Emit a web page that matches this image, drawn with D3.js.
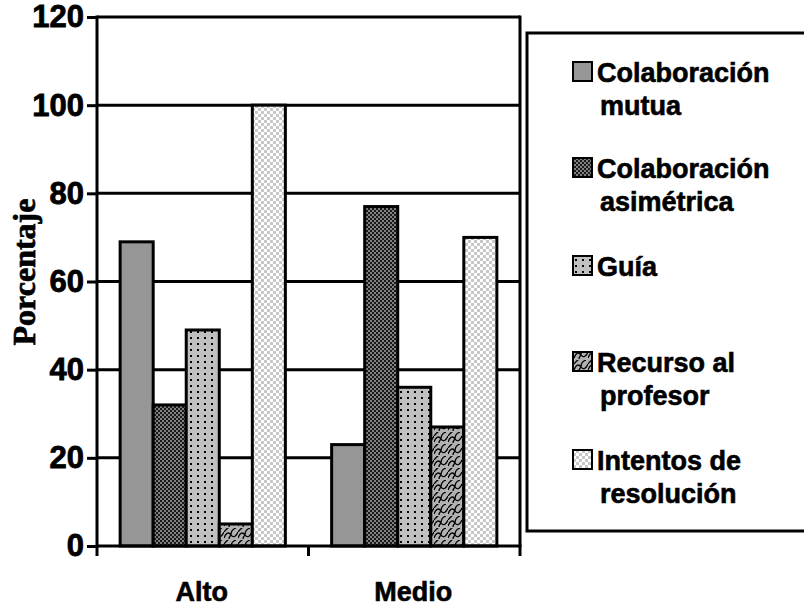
<!DOCTYPE html>
<html><head><meta charset="utf-8">
<script src="https://cdn.jsdelivr.net/npm/d3@7/dist/d3.min.js"></script>
<style>
html,body{margin:0;padding:0;background:#fff;}
svg{display:block;}
</style></head><body>
<svg id="c" width="804" height="606"></svg>
<script>
const categories = ["Alto", "Medio"];
const seriesNames = ["Colaboración mutua", "Colaboración asimétrica", "Guía", "Recurso al profesor", "Intentos de resolución"];
const legendLines = [["Colaboración", "mutua"], ["Colaboración", "asimétrica"], ["Guía"], ["Recurso al", "profesor"], ["Intentos de", "resolución"]];
const altoValues = [69, 32, 49, 5, 100];
const medioValues = [23, 77, 36, 27, 70];
const yTicks = [0, 20, 40, 60, 80, 100, 120];
const yTitle = "Porcentaje";

(function(){
const values = [altoValues, medioValues];
const svg = d3.select("#c");
const defs = svg.append("defs");

const p0 = defs.append("pattern").attr("id","pat0").attr("width",4).attr("height",4).attr("patternUnits","userSpaceOnUse");
p0.append("rect").attr("width",4).attr("height",4).attr("fill","#969696");

const p1 = defs.append("pattern").attr("id","pat1").attr("width",4).attr("height",4).attr("patternUnits","userSpaceOnUse");
p1.append("rect").attr("width",4).attr("height",4).attr("fill","#808080");
p1.append("rect").attr("width",2).attr("height",2).attr("fill","#1a1a1a");
p1.append("rect").attr("x",2).attr("y",2).attr("width",2).attr("height",2).attr("fill","#1a1a1a");

const p2 = defs.append("pattern").attr("id","pat2").attr("width",7).attr("height",12).attr("patternUnits","userSpaceOnUse");
p2.append("rect").attr("width",7).attr("height",12).attr("fill","#c0c0c0");
p2.append("rect").attr("x",1).attr("y",1).attr("width",2).attr("height",2).attr("fill","#000");
p2.append("rect").attr("x",1).attr("y",7).attr("width",2).attr("height",2).attr("fill","#000");

const p3 = defs.append("pattern").attr("id","pat3").attr("width",14).attr("height",12).attr("patternUnits","userSpaceOnUse");
p3.append("rect").attr("width",14).attr("height",12).attr("fill","#b2b2b2");
p3.append("path").attr("d","M0,10 C2,4 5,4 7,7 C9,10 12,9 14,4 M7,7 C7,3 9,1 12,0 M0,4 C2,1 4,0 5,-1 M5,11 C5,9 6,8 7,7")
  .attr("fill","none").attr("stroke","#000").attr("stroke-width",1.3);

const p4 = defs.append("pattern").attr("id","pat4").attr("width",6).attr("height",6).attr("patternUnits","userSpaceOnUse");
p4.append("rect").attr("width",6).attr("height",6).attr("fill","#ffffff");
p4.append("rect").attr("width",3).attr("height",3).attr("fill","#c8c8c8");
p4.append("rect").attr("x",3).attr("y",3).attr("width",3).attr("height",3).attr("fill","#c8c8c8");

const fills = ["url(#pat0)","url(#pat1)","url(#pat2)","url(#pat3)","url(#pat4)"];
const sansFont = "Liberation Sans, Arial, sans-serif";

const pLeft = 97, pRight = 520, pTop = 17, pBottom = 546;
const y = d3.scaleLinear().domain([0,120]).range([pBottom, pTop]);
const x0 = d3.scaleBand().domain(categories).range([pLeft, pRight]).padding(0);
const x1 = d3.scaleBand().domain(seriesNames).range([0, x0.bandwidth()]).paddingInner(0).paddingOuter(0.7);

svg.append("g").selectAll("line").data(yTicks.filter(d=>d>0)).join("line")
  .attr("x1", pLeft).attr("x2", pRight).attr("y1", d=>y(d)).attr("y2", d=>y(d))
  .attr("stroke","#000").attr("stroke-width",3);
svg.append("line").attr("x1",pRight).attr("x2",pRight).attr("y1",pTop-1.5).attr("y2",pBottom)
  .attr("stroke","#000").attr("stroke-width",3);

const g = svg.append("g");
categories.forEach((c, ci) => {
  g.append("g").selectAll("rect").data(values[ci]).join("rect")
    .attr("x", (d,i)=>x0(c)+x1(seriesNames[i]))
    .attr("y", d=>y(d))
    .attr("width", x1.bandwidth())
    .attr("height", d=>y(0)-y(d))
    .attr("fill", (d,i)=>fills[i])
    .attr("stroke","#000").attr("stroke-width",3);
});

const yAxis = d3.axisLeft(y).tickValues(yTicks).tickSize(10).tickPadding(3);
const ya = svg.append("g").attr("transform",`translate(${pLeft},0)`).call(yAxis);
ya.select(".domain").attr("stroke","#000").attr("stroke-width",3).attr("d",`M0,${pTop-1.5}V${pBottom+1.5}`);
ya.selectAll(".tick line").attr("stroke","#000").attr("stroke-width",3);
ya.selectAll(".tick text").attr("font-family",sansFont).attr("font-weight","bold")
  .attr("font-size",31).attr("fill","#000").attr("stroke","#000").attr("stroke-width",0.8);

const xa = svg.append("g").attr("transform",`translate(0,${pBottom})`);
xa.append("line").attr("x1",pLeft).attr("x2",pRight+1.5).attr("y1",0).attr("y2",0).attr("stroke","#000").attr("stroke-width",3);
const xBounds = [pLeft].concat(categories.map(c=>x0(c)+x0.bandwidth()));
xa.selectAll("line.tk").data(xBounds).join("line").attr("class","tk")
  .attr("x1",d=>d).attr("x2",d=>d).attr("y1",0).attr("y2",10).attr("stroke","#000").attr("stroke-width",3);
xa.selectAll("text").data(categories).join("text")
  .attr("x", c=>x0(c)+x0.bandwidth()/2 - 1).attr("y", 55)
  .attr("text-anchor","middle")
  .attr("font-family",sansFont).attr("font-weight","bold")
  .attr("font-size",27).attr("stroke","#000").attr("stroke-width",0.6).text(c=>c);

svg.append("text").attr("transform","translate(35,272) rotate(-90)")
  .attr("text-anchor","middle")
  .attr("font-family","Liberation Serif, Times New Roman, serif").attr("font-weight","bold")
  .attr("font-size",32).attr("stroke","#000").attr("stroke-width",0.7).text(yTitle);

svg.append("rect").attr("x",527).attr("y",33).attr("width",290).attr("height",498)
  .attr("fill","none").attr("stroke","#000").attr("stroke-width",3);
const legendY = [72, 168, 266, 362, 460];
const lg = svg.append("g");
legendLines.forEach((lines, i) => {
  lg.append("rect").attr("x",573).attr("y",legendY[i]-10).attr("width",19).attr("height",19)
    .attr("fill",fills[i]).attr("stroke","#000").attr("stroke-width",2);
  const t = lg.append("text").attr("x",597).attr("y",legendY[i]+10)
    .attr("font-family",sansFont).attr("font-weight","bold")
    .attr("font-size",27).attr("stroke","#000").attr("stroke-width",0.6);
  lines.forEach((ln, j) => {
    t.append("tspan").attr("x", j===0?597:600).attr("dy", j===0?0:33).text(ln);
  });
});
})();
</script>
</body></html>
